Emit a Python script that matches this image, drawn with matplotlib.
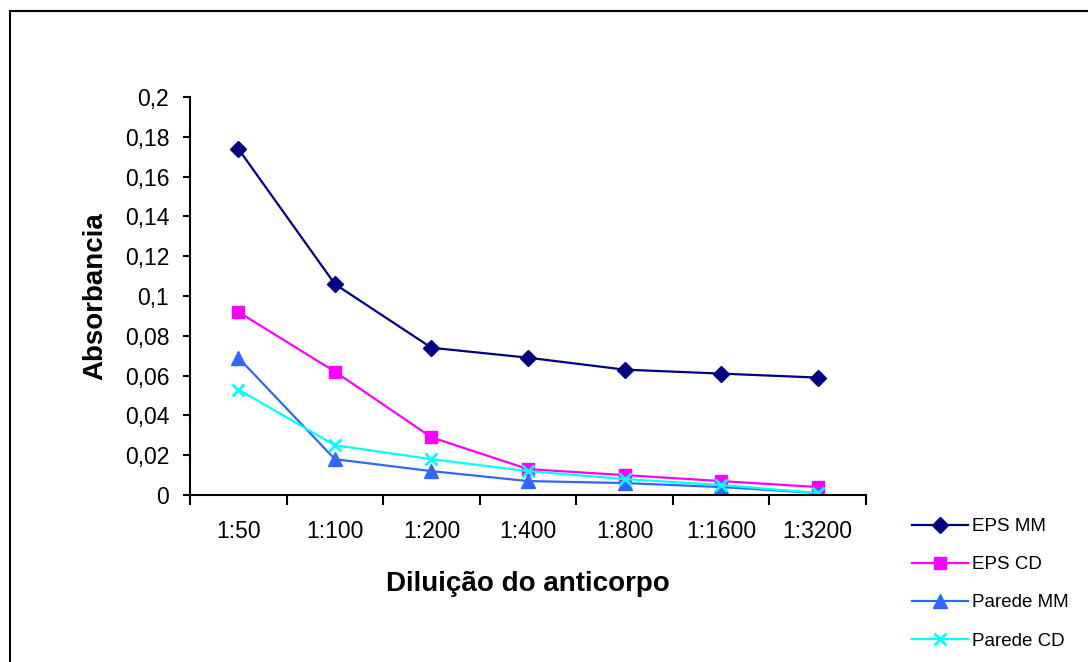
import matplotlib.pyplot as plt
from matplotlib.patches import Rectangle
from matplotlib.ticker import FixedLocator, FuncFormatter

plt.rcParams['font.family'] = ['Liberation Sans', 'DejaVu Sans']

# dados
diluicoes = ['1:50', '1:100', '1:200', '1:400', '1:800', '1:1600', '1:3200']
eps_mm = [0.174, 0.106, 0.074, 0.069, 0.063, 0.061, 0.059]
eps_cd = [0.092, 0.062, 0.029, 0.013, 0.010, 0.007, 0.004]
parede_mm = [0.069, 0.018, 0.012, 0.007, 0.006, 0.004, 0.001]
parede_cd = [0.053, 0.025, 0.018, 0.012, 0.008, 0.005, 0.001]
y_ticks = [0, 0.02, 0.04, 0.06, 0.08, 0.1, 0.12, 0.14, 0.16, 0.18, 0.2]

fig = plt.figure(figsize=(10.88, 6.62), dpi=100)
# moldura do grafico
fig.patches.append(Rectangle((10 / 1088, -0.1), 1.2, 1 - 11 / 662 + 0.1,
                             transform=fig.transFigure, fill=False,
                             edgecolor='black', linewidth=1.5))

ax = fig.add_axes([190 / 1088, 1 - 495 / 662, 676 / 1088, 398 / 662])
x = list(range(len(diluicoes)))

ax.plot(x, eps_mm, color='#000080', marker='D', markersize=8, linewidth=1.6, label='EPS MM')
ax.plot(x, eps_cd, color='#FF00FF', marker='s', markersize=8.5, linewidth=1.6, label='EPS CD')
ax.plot(x, parede_mm, color='#3366FF', marker='^', markersize=10, linewidth=1.6, label='Parede MM')
ax.plot(x, parede_cd, color='#00FFFF', marker='x', markersize=8, markeredgewidth=2,
        linewidth=1.6, label='Parede CD')

ax.set_xlim(-0.5, len(diluicoes) - 0.5)
ax.set_ylim(0, 0.2)
ax.set_xticks(x)
ax.set_xticklabels(diluicoes)
ax.xaxis.set_minor_locator(FixedLocator([i - 0.5 for i in range(len(diluicoes) + 1)]))
ax.tick_params(axis='x', which='major', length=0, pad=18, labelsize=16.5)
ax.tick_params(axis='x', which='minor', length=7, width=1.5, direction='out')
ax.set_yticks(y_ticks)
ax.yaxis.set_major_formatter(FuncFormatter(lambda v, p: ('%g' % v).replace('.', ',')))
ax.tick_params(axis='y', length=5, width=1.5, direction='out', labelsize=16.5, pad=10)

for s in ['top', 'right']:
    ax.spines[s].set_visible(False)
for s in ['left', 'bottom']:
    ax.spines[s].set_linewidth(1.5)

ax.set_xlabel('Diluição do anticorpo', fontsize=20, fontweight='bold', labelpad=20)
ax.set_ylabel('Absorbancia', fontsize=20, fontweight='bold', labelpad=12)

fig.legend(loc='upper left', bbox_to_anchor=(912 / 1088, 1 - 518 / 662), frameon=False,
           fontsize=13.5, handlelength=3.0, labelspacing=1.12, handletextpad=0.2,
           borderpad=0, borderaxespad=0)

fig.savefig('out.png', dpi=100)
